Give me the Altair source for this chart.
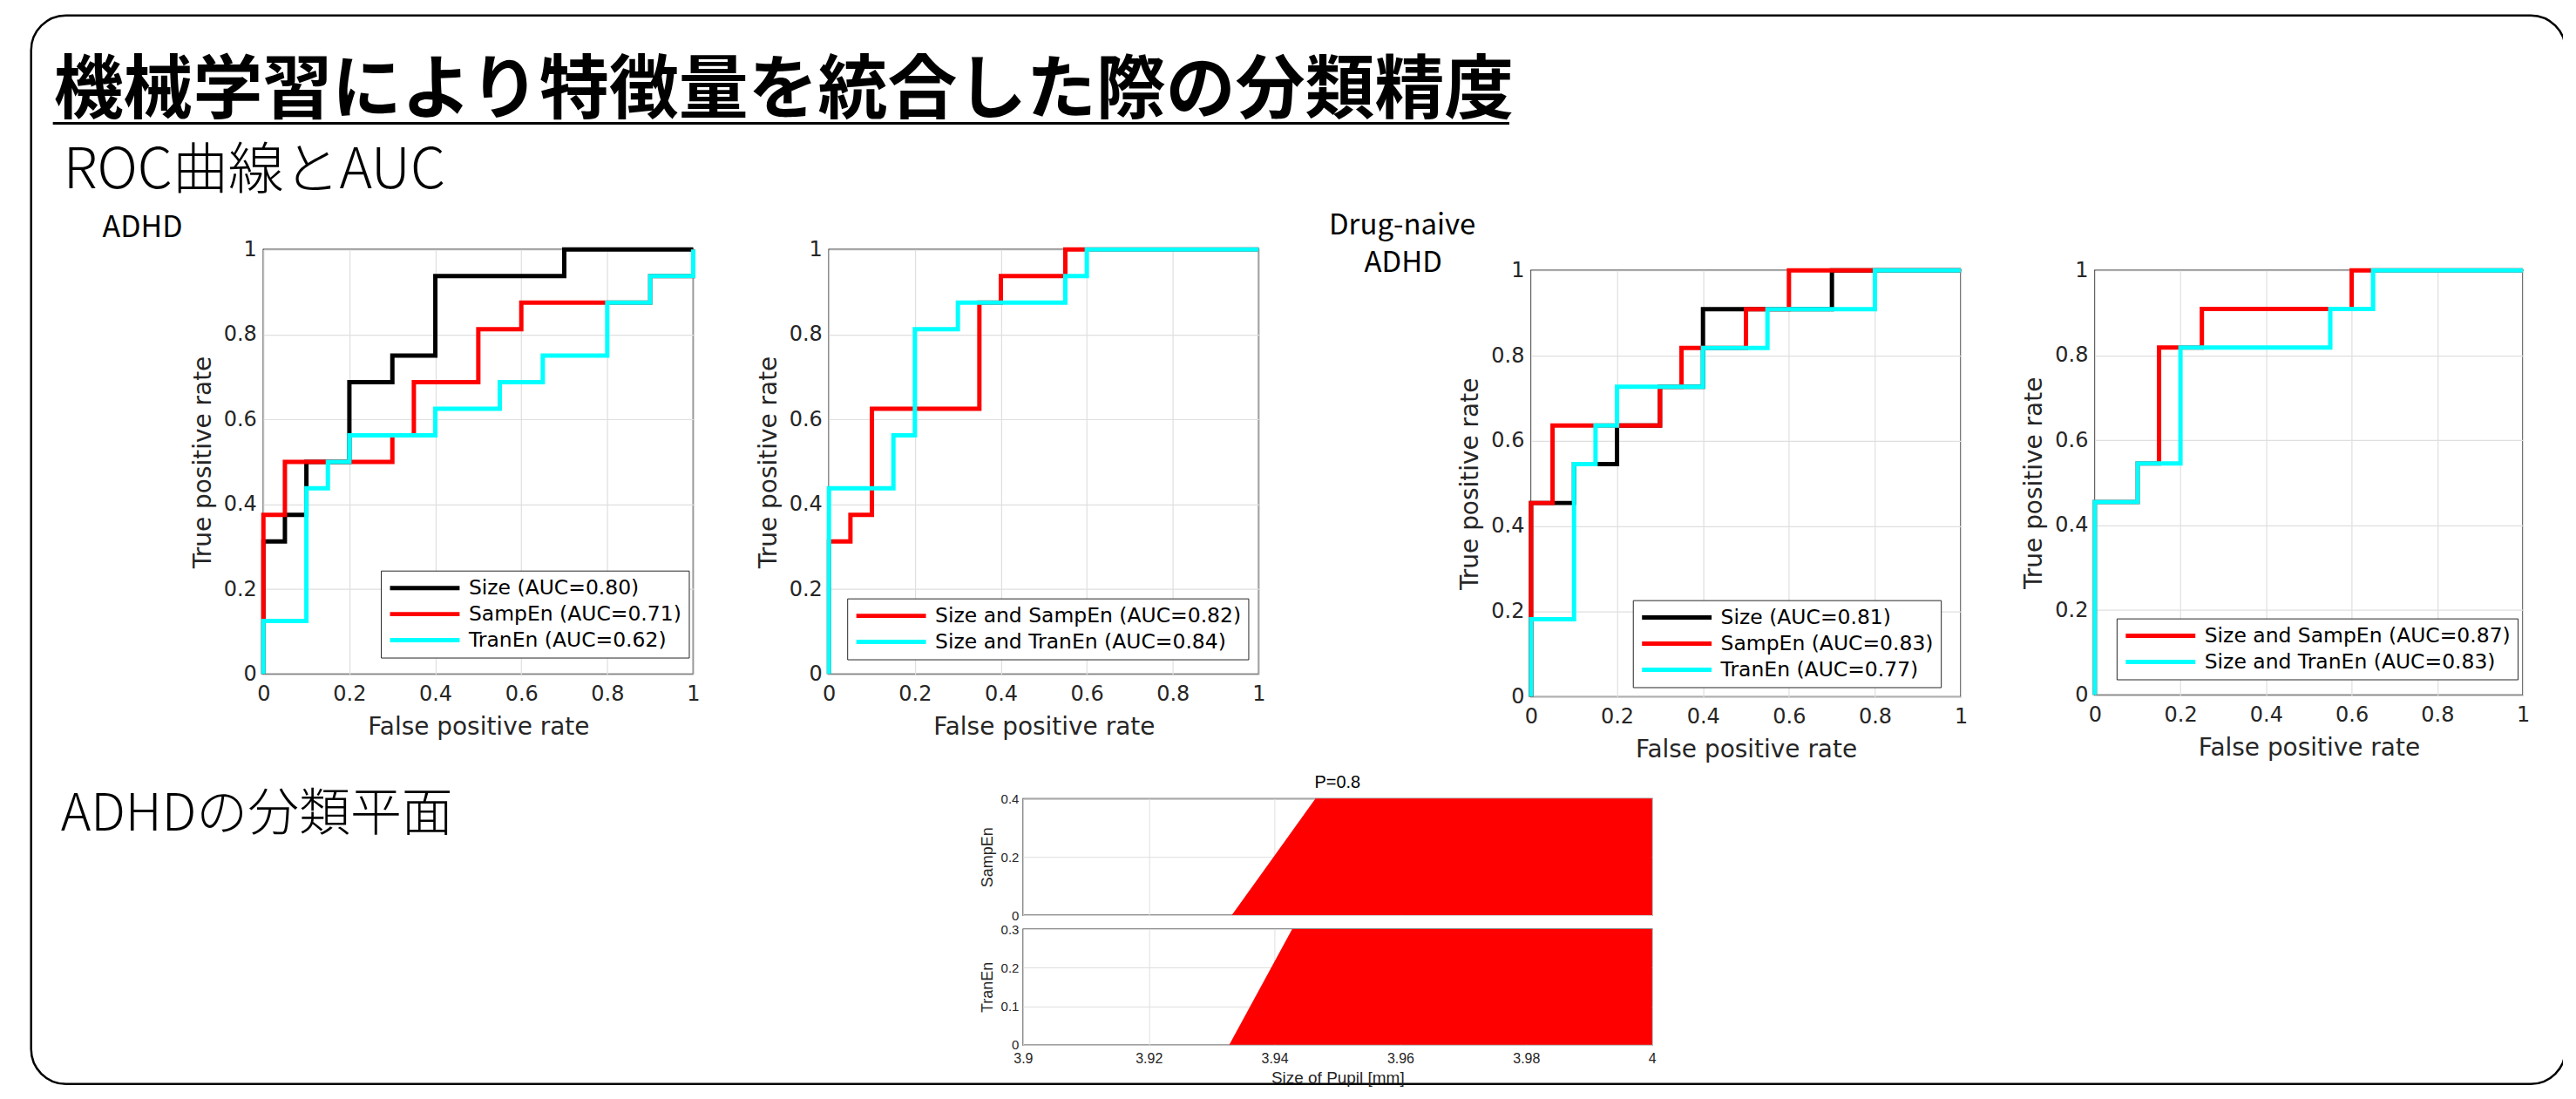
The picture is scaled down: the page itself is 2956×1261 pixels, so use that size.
import altair as alt
import pandas as pd

# ---------------- texts ----------------
TITLE = "機械学習により特徴量を統合した際の分類精度"
SUBTITLE_ROC = "ROC曲線とAUC"
SUBTITLE_PLANE = "ADHDの分類平面"
GROUP_ADHD = "ADHD"
GROUP_NAIVE = ["Drug-naive", "ADHD"]
ROC_X_TITLE = "False positive rate"
ROC_Y_TITLE = "True positive rate"
ROC_TICKS = [0, 0.2, 0.4, 0.6, 0.8, 1]

# ---------------- ROC curves: ADHD, single features ----------------
A_NAMES = ["Size (AUC=0.80)", "SampEn (AUC=0.71)", "TranEn (AUC=0.62)"]
A_SIZE_FPR = [0, 0, 0.05, 0.10, 0.20, 0.30, 0.40, 0.70, 1.00]
A_SIZE_TPR = [0, 0.3125, 0.375, 0.5, 0.6875, 0.75, 0.9375, 1.0, 1.0]
A_SAMP_FPR = [0, 0, 0.05, 0.30, 0.35, 0.50, 0.60, 0.90, 1.00]
A_SAMP_TPR = [0, 0.375, 0.5, 0.5625, 0.6875, 0.8125, 0.875, 0.9375, 1.0]
A_TRAN_FPR = [0, 0, 0.10, 0.15, 0.20, 0.40, 0.55, 0.65, 0.80, 0.90, 1.00]
A_TRAN_TPR = [0, 0.125, 0.4375, 0.5, 0.5625, 0.625, 0.6875, 0.75, 0.875, 0.9375, 1.0]

# ---------------- ROC curves: ADHD, combined ----------------
B_NAMES = ["Size and SampEn (AUC=0.82)", "Size and TranEn (AUC=0.84)"]
B_SAMP_FPR = [0, 0, 0.05, 0.10, 0.35, 0.40, 0.55, 1.00]
B_SAMP_TPR = [0, 0.3125, 0.375, 0.625, 0.875, 0.9375, 1.0, 1.0]
B_TRAN_FPR = [0, 0, 0.15, 0.20, 0.30, 0.55, 0.60, 1.00]
B_TRAN_TPR = [0, 0.4375, 0.5625, 0.8125, 0.875, 0.9375, 1.0, 1.0]

# ---------------- ROC curves: drug-naive ADHD, single features ----------------
C_NAMES = ["Size (AUC=0.81)", "SampEn (AUC=0.83)", "TranEn (AUC=0.77)"]
C_SIZE_FPR = [0, 0, 0.10, 0.20, 0.30, 0.40, 0.70, 1.00]
C_SIZE_TPR = [0, 0.4545, 0.5455, 0.6364, 0.7273, 0.9091, 1.0, 1.0]
C_SAMP_FPR = [0, 0, 0.05, 0.30, 0.35, 0.50, 0.60, 1.00]
C_SAMP_TPR = [0, 0.4545, 0.6364, 0.7273, 0.8182, 0.9091, 1.0, 1.0]
C_TRAN_FPR = [0, 0, 0.10, 0.15, 0.20, 0.40, 0.55, 0.80, 1.00]
C_TRAN_TPR = [0, 0.1818, 0.5455, 0.6364, 0.7273, 0.8182, 0.9091, 1.0, 1.0]

# ---------------- ROC curves: drug-naive ADHD, combined ----------------
D_NAMES = ["Size and SampEn (AUC=0.87)", "Size and TranEn (AUC=0.83)"]
D_SAMP_FPR = [0, 0, 0.10, 0.15, 0.25, 0.60, 1.00]
D_SAMP_TPR = [0, 0.4545, 0.5455, 0.8182, 0.9091, 1.0, 1.0]
D_TRAN_FPR = [0, 0, 0.10, 0.20, 0.55, 0.65, 1.00]
D_TRAN_TPR = [0, 0.4545, 0.5455, 0.8182, 0.9091, 1.0, 1.0]

COLORS3 = ["#000000", "#ff0000", "#00ffff"]
COLORS2 = ["#ff0000", "#00ffff"]

# ---------------- classification plane ----------------
PLANE_TITLE = "P=0.8"
PLANE_X_TITLE = "Size of Pupil [mm]"
PLANE_X_TICKS = [3.9, 3.92, 3.94, 3.96, 3.98, 4.0]
SAMP_X = [3.9332, 3.9465, 4.0]
SAMP_Y = [0.0, 0.4, 0.4]
SAMP_TICKS = [0, 0.2, 0.4]
TRAN_X = [3.9328, 3.9428, 4.0]
TRAN_Y = [0.0, 0.3, 0.3]
TRAN_TICKS = [0, 0.1, 0.2, 0.3]

AX = "#262626"
GRID = "#dfdfdf"
JP = "Noto Sans CJK JP"
SANS = "'Liberation Sans', Arial, sans-serif"
dummy = pd.DataFrame({"k": [0]})


def spacer(w, h):
    return alt.Chart(dummy).mark_point(opacity=0).encode(
        x=alt.value(0), y=alt.value(0)
    ).properties(width=w, height=h, view=alt.ViewBackground(stroke="transparent"))


def roc_axis(title, lab_pad, title_pad):
    return alt.Axis(values=ROC_TICKS, format=".1~f", title=title, grid=True,
                    gridColor=GRID, gridWidth=1.2, domain=False, ticks=False,
                    labelFont="DejaVu Sans", labelFontSize=24, labelColor=AX,
                    labelPadding=lab_pad, labelFlush=False, labelOverlap=False,
                    titleFont="DejaVu Sans", titleFontSize=28,
                    titleFontWeight="normal", titleColor=AX, titlePadding=title_pad)


def roc_panel(names, fprs, tprs, colors, w, h, lx, ly):
    rows = []
    for n, fx, ty in zip(names, fprs, tprs):
        for i, (a, b) in enumerate(zip(fx, ty)):
            rows.append({"s": n, "i": i, "fpr": a, "tpr": b})
    df = pd.DataFrame(rows)
    color = alt.Color("s:N", scale=alt.Scale(domain=names, range=colors),
                      legend=alt.Legend(title=None, orient="none", legendX=lx, legendY=ly,
                                        symbolType="stroke", symbolSize=80 ** 2,
                                        symbolStrokeWidth=5, clipHeight=24, rowPadding=6,
                                        padding=8, labelFont="DejaVu Sans",
                                        labelFontSize=23.5, labelColor="#000000",
                                        labelOffset=8, labelLimit=700,
                                        fillColor="white", strokeColor=AX, symbolOpacity=1))
    x = alt.X("fpr:Q", scale=alt.Scale(domain=[0, 1], nice=False, zero=False),
              axis=roc_axis(ROC_X_TITLE, 11, 12))
    y = alt.Y("tpr:Q", scale=alt.Scale(domain=[0, 1], nice=False, zero=False),
              axis=roc_axis(ROC_Y_TITLE, 8, 9))
    layers = []
    for n in names:
        layers.append(
            alt.Chart(df).transform_filter(alt.FieldEqualPredicate(field="s", equal=n))
            .mark_line(strokeWidth=5, interpolate="step-after")
            .encode(x=x, y=y, color=color, order=alt.Order("i:Q"))
        )
    return alt.layer(*layers).properties(
        width=w, height=h,
        view=alt.ViewBackground(stroke=AX, strokeWidth=1.5, fill="white"))


p1 = roc_panel(A_NAMES, [A_SIZE_FPR, A_SAMP_FPR, A_TRAN_FPR], [A_SIZE_TPR, A_SAMP_TPR, A_TRAN_TPR],
               COLORS3, 494, 488, 135, 369)
p2 = roc_panel(B_NAMES, [B_SAMP_FPR, B_TRAN_FPR], [B_SAMP_TPR, B_TRAN_TPR],
               COLORS2, 494, 488, 21, 401)
p3 = roc_panel(C_NAMES, [C_SIZE_FPR, C_SAMP_FPR, C_TRAN_FPR], [C_SIZE_TPR, C_SAMP_TPR, C_TRAN_TPR],
               COLORS3, 494, 490, 117, 379)
p4 = roc_panel(D_NAMES, [D_SAMP_FPR, D_TRAN_FPR], [D_SAMP_TPR, D_TRAN_TPR],
               COLORS2, 492, 488, 25, 400)


def plane(xs, ys, ymax, yticks, ytitle, w, h, bottom, title=None):
    df = pd.DataFrame({"x": xs, "y": ys})
    xaxis_kw = dict(values=PLANE_X_TICKS, format=".2~f", grid=True, gridColor=GRID,
                    domain=False, ticks=False, labelFlush=False, labelOverlap=False,
                    labelFont=SANS, labelFontSize=16, labelColor=AX,
                    labelPadding=8, titleFont=SANS, titleFontSize=19,
                    titleFontWeight="normal", titleColor=AX, titlePadding=5)
    if bottom:
        xaxis = alt.Axis(title=PLANE_X_TITLE, **xaxis_kw)
    else:
        xaxis = alt.Axis(title=None, labels=False, **xaxis_kw)
    yaxis = alt.Axis(values=yticks, format=".1~f", title=ytitle, grid=True, gridColor=GRID,
                     domain=False, ticks=False, labelFont=SANS,
                     labelFontSize=15, labelColor=AX, labelPadding=5, labelOverlap=False,
                     titleFont=SANS, titleFontSize=18, titleFontWeight="normal",
                     titleColor=AX, titlePadding=6)
    ch = alt.Chart(df).mark_area(color="#ff0000").encode(
        x=alt.X("x:Q", scale=alt.Scale(domain=[3.9, 4.0], nice=False, zero=False), axis=xaxis),
        y=alt.Y("y:Q", scale=alt.Scale(domain=[0, ymax], nice=False, zero=False), axis=yaxis),
        y2=alt.datum(0),
    )
    props = dict(width=w, height=h, view=alt.ViewBackground(stroke=AX, strokeWidth=1.3, fill="white"))
    if title:
        props["title"] = alt.TitleParams(title, font=SANS, fontSize=20,
                                         fontWeight="normal", color="#000000", offset=1,
                                         frame="group")
    return ch.properties(**props)


pl1 = plane(SAMP_X, SAMP_Y, 0.4, SAMP_TICKS, "SampEn", 723, 134, False, PLANE_TITLE)
pl2 = plane(TRAN_X, TRAN_Y, 0.3, TRAN_TICKS, "TranEn", 723, 133, True)


# ---------------- slide decorations (layer origin at page x=302, y=16) ----------------
def txt(text, x, y, size, weight="normal", align="left"):
    return alt.Chart(dummy).mark_text(text=text, font=JP, fontSize=size, fontWeight=weight,
                                      align=align, baseline="alphabetic", color="#000000").encode(
        x=alt.value(x), y=alt.value(y))


border = alt.Chart(dummy).mark_rect(fill="transparent", stroke="#000000", strokeWidth=2.5,
                                    cornerRadius=40).encode(
    x=alt.value(-267), x2=alt.value(2646), y=alt.value(0), y2=alt.value(1228))
# the slide frame runs past the right edge of the window: hide its right side
border_cut = alt.Chart(dummy).mark_rule(color="white", strokeWidth=6).encode(
    x=alt.value(2646), y=alt.value(22), y2=alt.value(1206))
underline = alt.Chart(dummy).mark_rule(color="#000000", strokeWidth=3).encode(
    x=alt.value(-242), x2=alt.value(1432), y=alt.value(124))

header = alt.layer(
    border, border_cut, underline,
    txt(TITLE, -241, 111, 80, "bold"),
    txt(SUBTITLE_ROC, -230, 199, 64, 300),
    txt(GROUP_ADHD, -185, 255, 34),
    txt(GROUP_NAIVE[0], 1309, 252, 33, align="center"),
    txt(GROUP_NAIVE[1], 1310, 295, 33, align="center"),
    txt(SUBTITLE_PLANE, -233, 937, 59, 300),
).properties(width=1000, height=269, view=alt.ViewBackground(stroke="transparent"))

# nested concats take no room in a "flush" layout, so each one is placed last
right_pair = alt.vconcat(
    spacer(494, 24),
    alt.hconcat(p3, spacer(154, 490), p4, spacing=0, bounds="flush")
    .resolve_scale(color="independent"),
    spacing=0, bounds="flush").resolve_scale(color="independent")

row1 = alt.hconcat(p1, spacer(156, 488), p2, spacer(313, 488), right_pair,
                   spacing=0, bounds="flush").resolve_scale(color="independent")

row2 = alt.hconcat(
    spacer(873, 100),
    alt.vconcat(pl1, spacer(723, 16), pl2, spacing=0, bounds="flush"),
    spacing=0, bounds="flush")

chart = alt.vconcat(header, row1, spacer(1000, 631), row2, spacing=0, bounds="flush").resolve_scale(
    color="independent").properties(
    padding={"left": 25.75, "top": 6.75, "right": 0, "bottom": 0}
).configure(background="white")

chart.save("out.html", embed_options={"renderer": "svg", "actions": False})
